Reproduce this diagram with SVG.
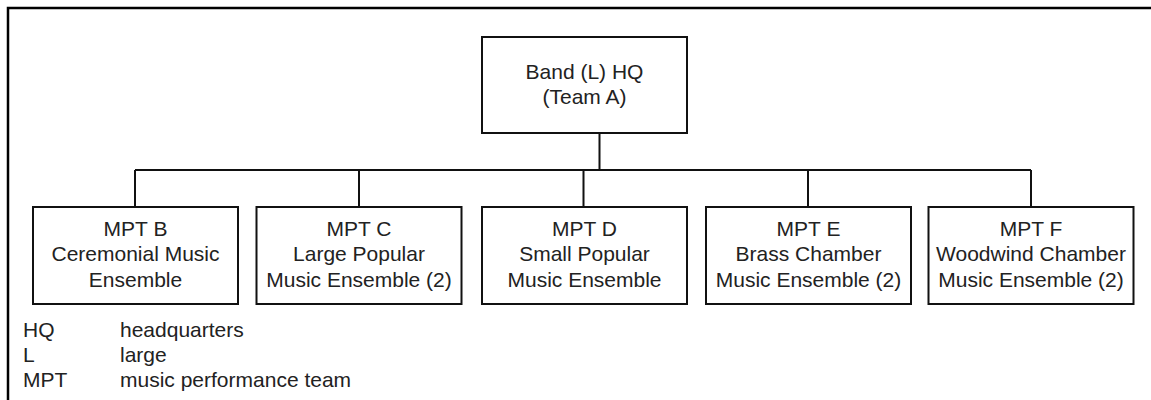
<svg xmlns="http://www.w3.org/2000/svg" width="1151" height="400" viewBox="0 0 1151 400">
<style>
.box{fill:#fff;stroke:#111;stroke-width:2}
.t{font-family:"Liberation Sans",Arial,sans-serif;font-size:21px;fill:#222;text-anchor:middle}
.l{font-family:"Liberation Sans",Arial,sans-serif;font-size:21px;fill:#222}
.c{stroke:#111;stroke-width:2;fill:none}
</style>
<rect width="1151" height="400" fill="#fff"/>
<rect x="8" y="8" width="1160" height="410" fill="none" stroke="#000" stroke-width="2.5"/>
<g id="connectors">
<path class="c" d="M599.5 133V170M135 170H1031M135 170V207M359 170V207M583.5 170V207M808 170V207M1031 170V207"/>
</g>
<g id="hq">
<rect class="box" x="482" y="37" width="205" height="96"/>
<text class="t" x="584.5" y="79">Band (L) HQ</text>
<text class="t" x="584.5" y="104">(Team A)</text>
</g>
<g id="mpt-b">
<rect class="box" x="33" y="207" width="205" height="97"/>
<text class="t" x="135.5" y="235.5">MPT B</text>
<text class="t" x="135.5" y="261">Ceremonial Music</text>
<text class="t" x="135.5" y="286.5">Ensemble</text>
</g>
<g id="mpt-c">
<rect class="box" x="256.5" y="207" width="205" height="97"/>
<text class="t" x="359" y="235.5">MPT C</text>
<text class="t" x="359" y="261">Large Popular</text>
<text class="t" x="359" y="286.5">Music Ensemble (2)</text>
</g>
<g id="mpt-d">
<rect class="box" x="482" y="207" width="205" height="97"/>
<text class="t" x="584.5" y="235.5">MPT D</text>
<text class="t" x="584.5" y="261">Small Popular</text>
<text class="t" x="584.5" y="286.5">Music Ensemble</text>
</g>
<g id="mpt-e">
<rect class="box" x="706" y="207" width="205" height="97"/>
<text class="t" x="808.5" y="235.5">MPT E</text>
<text class="t" x="808.5" y="261">Brass Chamber</text>
<text class="t" x="808.5" y="286.5">Music Ensemble (2)</text>
</g>
<g id="mpt-f">
<rect class="box" x="928.5" y="207" width="205" height="97"/>
<text class="t" x="1031" y="235.5">MPT F</text>
<text class="t" x="1031" y="261">Woodwind Chamber</text>
<text class="t" x="1031" y="286.5">Music Ensemble (2)</text>
</g>
<g id="legend">
<text class="l" x="23" y="337">HQ</text>
<text class="l" x="120" y="337">headquarters</text>
<text class="l" x="23" y="362">L</text>
<text class="l" x="120" y="362">large</text>
<text class="l" x="23" y="387">MPT</text>
<text class="l" x="120" y="387">music performance team</text>
</g>
</svg>
